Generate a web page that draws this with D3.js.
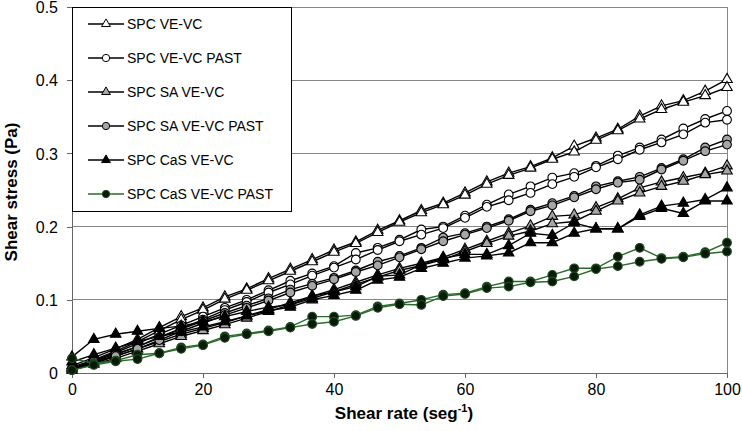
<!DOCTYPE html>
<html><head><meta charset="utf-8">
<script src="https://cdn.jsdelivr.net/npm/d3@7"></script>
<style>
body{margin:0;background:#fff}
svg{display:block;font-family:Arial,"Liberation Sans",sans-serif}
</style>
</head><body>
<svg id="chart" width="742" height="431"></svg>
<script>
// ---- data ----
const shearRate = [0,3.33,6.67,10,13.33,16.67,20,23.33,26.67,30,33.33,36.67,40,43.33,46.67,50,53.33,56.67,60,63.33,66.67,70,73.33,76.67,80,83.33,86.67,90,93.33,96.67,100];

const seriesNames = ["SPC VE-VC","SPC VE-VC PAST","SPC SA VE-VC","SPC SA VE-VC PAST","SPC CaS VE-VC","SPC CaS VE-VC PAST"];

const veVcUp   = [0.010,0.021,0.033,0.046,0.062,0.077,0.089,0.104,0.115,0.129,0.142,0.155,0.168,0.179,0.195,0.208,0.222,0.232,0.246,0.261,0.273,0.282,0.294,0.310,0.321,0.333,0.351,0.365,0.372,0.385,0.401];
const veVcDown = [0.008,0.018,0.030,0.043,0.058,0.073,0.086,0.101,0.113,0.126,0.139,0.152,0.165,0.177,0.192,0.206,0.219,0.230,0.243,0.258,0.270,0.280,0.292,0.302,0.318,0.331,0.347,0.360,0.370,0.379,0.390];

const veVcPastUp   = [0.006,0.017,0.028,0.040,0.053,0.065,0.077,0.089,0.100,0.113,0.126,0.136,0.146,0.164,0.171,0.182,0.196,0.200,0.215,0.230,0.244,0.255,0.267,0.273,0.283,0.297,0.308,0.319,0.334,0.347,0.358];
const veVcPastDown = [0.004,0.014,0.025,0.036,0.049,0.061,0.073,0.086,0.097,0.110,0.121,0.133,0.144,0.155,0.168,0.180,0.189,0.198,0.212,0.227,0.236,0.246,0.258,0.268,0.281,0.292,0.305,0.315,0.326,0.342,0.346];

const saVeVcUp   = [0.006,0.014,0.023,0.033,0.043,0.053,0.061,0.069,0.078,0.087,0.096,0.105,0.114,0.124,0.134,0.143,0.150,0.158,0.169,0.180,0.191,0.201,0.214,0.216,0.226,0.238,0.253,0.261,0.267,0.273,0.283];
const saVeVcDown = [0.004,0.012,0.020,0.030,0.040,0.050,0.058,0.066,0.075,0.084,0.093,0.102,0.111,0.121,0.131,0.140,0.147,0.155,0.166,0.177,0.187,0.194,0.204,0.207,0.221,0.235,0.246,0.255,0.262,0.271,0.276];

const saPastUp   = [0.006,0.016,0.026,0.036,0.048,0.060,0.071,0.082,0.092,0.102,0.114,0.122,0.130,0.140,0.152,0.160,0.171,0.185,0.191,0.200,0.210,0.223,0.232,0.242,0.255,0.262,0.268,0.280,0.292,0.308,0.319];
const saPastDown = [0.004,0.013,0.023,0.033,0.045,0.057,0.068,0.079,0.089,0.099,0.110,0.119,0.128,0.138,0.147,0.158,0.169,0.180,0.189,0.198,0.208,0.221,0.229,0.240,0.251,0.260,0.264,0.278,0.290,0.303,0.312];

const casVeVcUp   = [0.022,0.046,0.053,0.057,0.061,0.064,0.070,0.077,0.084,0.090,0.093,0.105,0.111,0.118,0.132,0.134,0.148,0.157,0.162,0.162,0.174,0.191,0.188,0.205,0.197,0.197,0.216,0.228,0.232,0.237,0.253];
const casVeVcDown = [0.015,0.025,0.034,0.043,0.050,0.056,0.063,0.070,0.078,0.085,0.090,0.100,0.106,0.113,0.127,0.131,0.143,0.150,0.157,0.160,0.164,0.178,0.178,0.191,0.197,0.197,0.214,0.225,0.218,0.235,0.235];

const casPastUp   = [0.020,0.013,0.017,0.025,0.027,0.035,0.039,0.050,0.054,0.058,0.063,0.077,0.077,0.079,0.091,0.095,0.100,0.107,0.109,0.118,0.125,0.125,0.134,0.143,0.143,0.159,0.171,0.157,0.159,0.165,0.178];
const casPastDown = [0.004,0.011,0.016,0.019,0.027,0.033,0.038,0.048,0.053,0.057,0.062,0.067,0.070,0.078,0.089,0.094,0.093,0.105,0.108,0.116,0.118,0.124,0.125,0.132,0.142,0.146,0.152,0.156,0.158,0.163,0.166];

const xTicks = [0,20,40,60,80,100];
const yTicks = [0,0.1,0.2,0.3,0.4,0.5];

// ---- styles ----
const styles = [
  {sym:d3.symbolTriangle, fill:"#ffffff", stroke:"#000", line:"#000", size:48},
  {sym:d3.symbolCircle,   fill:"#ffffff", stroke:"#000", line:"#000", size:60},
  {sym:d3.symbolTriangle, fill:"#a6a6a6", stroke:"#000", line:"#000", size:48},
  {sym:d3.symbolCircle,   fill:"#a6a6a6", stroke:"#000", line:"#000", size:60},
  {sym:d3.symbolTriangle, fill:"#000000", stroke:"#000", line:"#000", size:48},
  {sym:d3.symbolCircle,   fill:"#0a1a0a", stroke:"#1f4d1f", line:"#2a6a2a", size:60}
];
const seriesCurves = [
  [veVcUp, veVcDown],
  [veVcPastUp, veVcPastDown],
  [saVeVcUp, saVeVcDown],
  [saPastUp, saPastDown],
  [casVeVcUp, casVeVcDown],
  [casPastUp, casPastDown]
];

const svg = d3.select("#chart");
const L = 72, R = 727, T = 7, B = 373;
const x = d3.scaleLinear().domain([0,100]).range([L,R]);
const y = d3.scaleLinear().domain([0,0.5]).range([B,T]);

// gridlines
svg.append("g").selectAll("line").data(yTicks.filter(d=>d>0)).join("line")
  .attr("x1",L).attr("x2",R).attr("y1",d=>y(d)).attr("y2",d=>y(d))
  .attr("stroke","#868686").attr("stroke-width",1).attr("shape-rendering","crispEdges");
// right border
svg.append("line").attr("x1",R).attr("x2",R).attr("y1",T).attr("y2",B)
  .attr("stroke","#868686").attr("shape-rendering","crispEdges");

// axes
const xAxis = svg.append("g").attr("transform",`translate(0,${B})`)
  .call(d3.axisBottom(x).tickValues(xTicks).tickSize(5).tickSizeOuter(0).tickFormat(d3.format("d")));
const yAxis = svg.append("g").attr("transform",`translate(${L},0)`)
  .call(d3.axisLeft(y).tickValues(yTicks).tickSize(5).tickSizeOuter(0).tickFormat(d=>d===0?"0":d.toFixed(1)));
[xAxis,yAxis].forEach(a=>{
  a.selectAll("path,line").attr("stroke","#666").attr("shape-rendering","crispEdges");
  a.selectAll("text").attr("font-size",16).attr("fill","#000").attr("font-family","Arial, 'Liberation Sans', sans-serif");
});
xAxis.selectAll("text").attr("dy","0.9em").attr("y",8);
yAxis.selectAll("text").attr("x",-14).attr("dy","0.36em");

// lines & markers
const lineGen = d3.line().x((d,i)=>x(shearRate[i])).y(d=>y(d));
seriesCurves.forEach((curves,si)=>{
  const st = styles[si];
  const g = svg.append("g");
  curves.forEach(c=>{
    g.append("path").datum(c).attr("d",lineGen)
      .attr("fill","none").attr("stroke",st.line).attr("stroke-width",1.4);
  });
  curves.forEach(c=>{
    g.selectAll(null).data(c).join("path")
      .attr("transform",(d,i)=>`translate(${x(shearRate[i])},${y(d)})`)
      .attr("d",d3.symbol().type(st.sym).size(st.size))
      .attr("fill",st.fill).attr("stroke",st.stroke).attr("stroke-width",1.1);
  });
});

// legend
const lg = svg.append("g");
lg.append("rect").attr("x",L+0.5).attr("y",T+0.5).attr("width",219).attr("height",204)
  .attr("fill","#fff").attr("stroke","#000").attr("stroke-width",1);
seriesNames.forEach((name,i)=>{
  const st = styles[i];
  const cy = 24 + i*34;
  lg.append("line").attr("x1",88).attr("x2",124).attr("y1",cy).attr("y2",cy)
    .attr("stroke",st.line).attr("stroke-width",1.4);
  lg.append("path").attr("transform",`translate(106,${cy})`)
    .attr("d",d3.symbol().type(st.sym).size(st.size*0.7))
    .attr("fill",st.fill).attr("stroke",st.stroke).attr("stroke-width",1);
  lg.append("text").attr("x",127).attr("y",cy+5).attr("font-size",14).attr("fill","#000").text(name);
});

// axis titles
const xt = svg.append("text").attr("x",404).attr("y",419).attr("text-anchor","middle")
  .attr("font-size",17).attr("font-weight","bold");
xt.append("tspan").text("Shear rate (seg");
xt.append("tspan").attr("dy",-7).attr("font-size",11).text("-1");
xt.append("tspan").attr("dy",7).text(")");
svg.append("text").attr("transform","translate(17,192) rotate(-90)").attr("text-anchor","middle")
  .attr("font-size",17).attr("font-weight","bold").text("Shear stress (Pa)");
</script>
</body></html>
